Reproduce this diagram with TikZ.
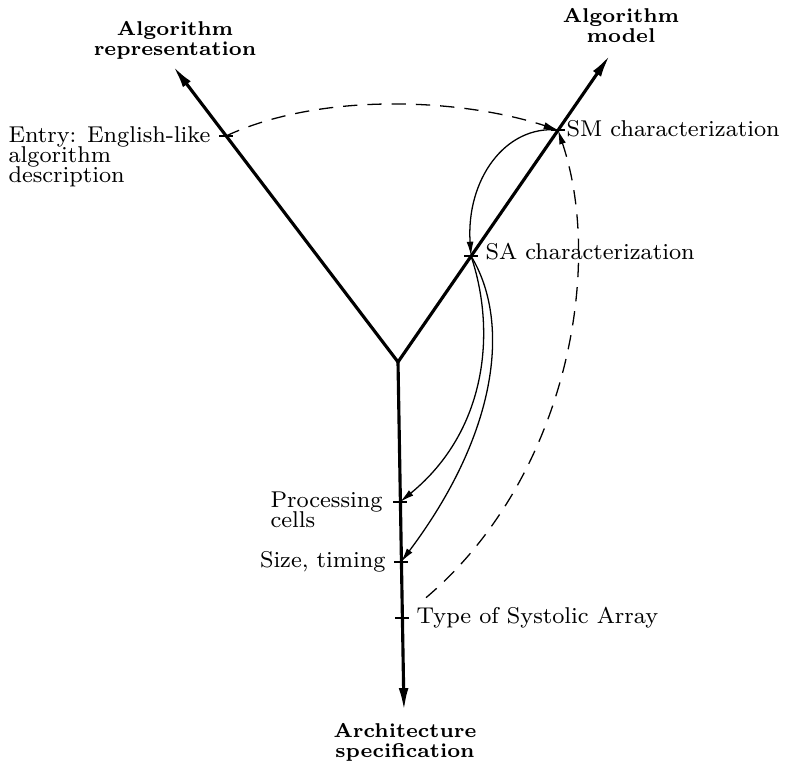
\documentclass[tikz,border=0pt]{standalone}
\usetikzlibrary{arrows.meta,calc}
\newcommand\bodyfont{\fontsize{8}{7}\selectfont\lineskiplimit=-5pt\relax}
\newcommand\headfont{\fontsize{7}{7}\selectfont\bfseries\lineskiplimit=-5pt\relax}
\begin{document}
\begin{tikzpicture}[x=0.35pt,y=-0.35pt,
  axis/.style={line width=1.1pt, -{Latex[length=8pt,width=3.4pt]}},
  flow/.style={line width=0.45pt, -{Latex[length=5pt,width=2.4pt]}},
  link/.style={flow, dash pattern=on 5pt off 3.5pt},
  tickmark/.style={line width=0.6pt},
  lbl/.style={inner sep=0pt, align=left, font=\bodyfont},
  head/.style={inner sep=0pt, align=center, font=\headfont}]
\useasboundingbox (0,0) rectangle (791,767);

% the three axes meeting at the centre
\coordinate (C)  at (398,362);
\coordinate (L)  at (173,66);
\coordinate (R)  at (610,55);
\coordinate (D)  at (404,711);

% marked points on the axes
\coordinate (E)  at (226,136);
\coordinate (SM) at (558,130);
\coordinate (SA) at (471,256);
\coordinate (P)  at (400,502);
\coordinate (S)  at (401,562);
\coordinate (T)  at (402,618);

\draw[axis] (C) -- (L);
\draw[axis] (C) -- (R);
\draw[axis] (C) -- (D);

% tick marks
\foreach \p in {E,P,S,T,SM,SA}
  \draw[tickmark] ($(\p)+(-7,0)$) -- ($(\p)+(7,0)$);

% axis titles
\node[head, anchor=north] (rep)  at (175,21)  {Algorithm\\representation};
\node[head, anchor=north] (mod)  at (621,8)   {Algorithm\\model};
\node[head, anchor=north] (arch) at (405,723) {Architecture\\specification};

% point labels
\node[lbl, anchor=north west] (entry) at (8,126)   {Entry: English-like\\algorithm\\description};
\node[lbl, anchor=base west]  (smlab) at (566,137) {SM characterization};
\node[lbl, anchor=base west]  (salab) at (485,260) {SA characterization};
\node[lbl, anchor=north west] (pclab) at (270,491) {Processing\\cells};
\node[lbl, anchor=base east]  (stlab) at (386,567) {Size, timing};
\node[lbl, anchor=base west]  (tylab) at (416,623) {Type of Systolic Array};

% transformations between the points
\draw[link] (E) .. controls (320,92) and (460,98) .. (SM);
\draw[link, shorten <=11pt] (T) .. controls (565,480) and (605,270) .. (SM);
\draw[flow] (SM) .. controls (505,125) and (466,180) .. (SA);
\draw[flow] (SA) .. controls (496,330) and (488,430) .. (P);
\draw[flow] (SA) .. controls (510,320) and (500,430) .. (S);
\end{tikzpicture}
\end{document}
